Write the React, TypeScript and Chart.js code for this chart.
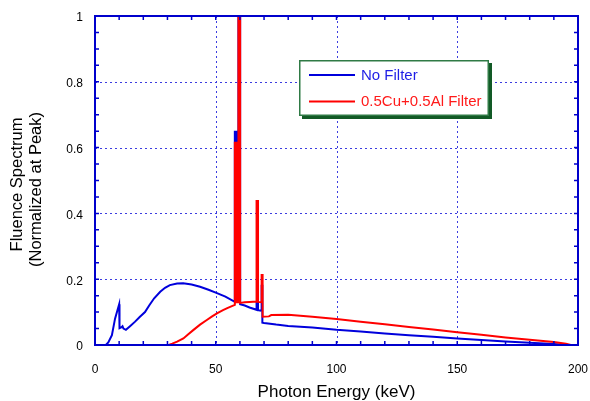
import React, { useEffect, useRef } from "react";
import { Chart, registerables } from "chart.js";

Chart.register(...registerables);

// ---- data (photon energy in keV, fluence normalized at peak) ----
const seriesNames = ["No Filter", "0.5Cu+0.5Al Filter"];

const noFilterEnergy = [
  0, 4.5, 5.5, 7, 8.3, 10, 10.15, 11, 11.4, 11.8, 12.8, 14.5, 16.6, 18.5, 20.7, 22.5, 24.5, 27, 29, 31, 34,
  36.5, 40, 43.5, 47, 50, 54, 57.9, 57.9, 58.45, 58.45, 58.5, 58.5, 59.1, 59.1, 59.4, 59.4, 60.1, 60.1, 62,
  64, 66.9, 66.9, 67.5, 67.5, 69.0, 69.0, 69.3, 69.3, 70, 75, 80, 90, 100, 110, 120, 130, 140, 150, 160,
  170, 180, 190, 194, 196, 200,
];
const noFilterFluence = [
  0, 0, 0.008, 0.03, 0.08, 0.124, 0.051, 0.054, 0.057, 0.05, 0.046, 0.057, 0.071, 0.085, 0.1, 0.121, 0.142,
  0.162, 0.174, 0.182, 0.187, 0.188, 0.184, 0.177, 0.168, 0.159, 0.147, 0.131, 0.648, 0.648, 0.2, 0.2,
  0.648, 0.648, 0.2, 0.2, 1.0, 1.0, 0.124, 0.12, 0.114, 0.107, 0.13, 0.13, 0.106, 0.104, 0.18, 0.18, 0.068,
  0.067, 0.062, 0.058, 0.053, 0.046, 0.041, 0.035, 0.03, 0.025, 0.02, 0.015, 0.011, 0.007, 0.003, 0.001,
  0, 0,
];

const filteredEnergy = [
  0, 30.5, 32, 34, 36.6, 38.5, 40.8, 43.5, 46.3, 48.5, 50.5, 53, 55, 57.9, 57.9, 58.3, 58.3, 58.7, 58.7,
  59.1, 59.1, 59.4, 59.4, 60.1, 60.1, 62, 64, 66.9, 66.9, 67.5, 67.5, 69.0, 69.0, 69.4, 69.4, 72, 73, 80,
  85, 90, 100, 110, 120, 130, 140, 150, 160, 170, 180, 190, 195, 197, 200,
];
const filteredFluence = [
  0, 0, 0.004, 0.01, 0.02, 0.032, 0.046, 0.062, 0.076, 0.087, 0.096, 0.106, 0.113, 0.122, 0.615, 0.615,
  0.13, 0.13, 0.615, 0.615, 0.13, 0.13, 1.0, 1.0, 0.128, 0.13, 0.131, 0.132, 0.438, 0.438, 0.131, 0.13,
  0.213, 0.213, 0.086, 0.087, 0.091, 0.092, 0.089, 0.086, 0.079, 0.071, 0.063, 0.055, 0.047, 0.039, 0.031,
  0.023, 0.016, 0.009, 0.004, 0, 0,
];

const xTickValues = [0, 50, 100, 150, 200];
const xTickLabels = ["0", "50", "100", "150", "200"];
const yTickValues = [0, 0.2, 0.4, 0.6, 0.8, 1];
const yTickLabels = ["0", "0.2", "0.4", "0.6", "0.8", "1"];
const xMinorStep = 10;
const yMinorStep = 0.05;

const xTitle = "Photon Energy (keV)";
const yTitle = ["Fluence Spectrum", "(Normalized at Peak)"];

const BLUE = "#0000dc";
const RED = "#ff0000";
const FRAME = "#0000cc";
const FONT = "'Liberation Sans', Arial, sans-serif";

const toPoints = (xs: number[], ys: number[]) => xs.map((x, i) => ({ x, y: ys[i] }));

const decorPlugin = {
  id: "decor",
  beforeDatasetsDraw(chart: any) {
    const { ctx, chartArea, scales } = chart;
    const { left, right, top, bottom } = chartArea;
    const xs = scales.x;
    const ys = scales.y;
    ctx.save();
    ctx.strokeStyle = "#3c3ce0";
    ctx.lineWidth = 1;
    ctx.setLineDash([2, 3]);
    xTickValues.slice(1, -1).forEach((v) => {
      const px = Math.round(xs.getPixelForValue(v)) + 0.5;
      ctx.beginPath();
      ctx.moveTo(px, top);
      ctx.lineTo(px, bottom);
      ctx.stroke();
    });
    yTickValues.slice(1, -1).forEach((v) => {
      const py = Math.round(ys.getPixelForValue(v)) + 0.5;
      ctx.beginPath();
      ctx.moveTo(left, py);
      ctx.lineTo(right, py);
      ctx.stroke();
    });
    ctx.restore();
  },
  afterDatasetsDraw(chart: any) {
    const { ctx, chartArea, scales } = chart;
    const { left, right, top, bottom } = chartArea;
    const xs = scales.x;
    const ys = scales.y;
    ctx.save();
    ctx.strokeStyle = FRAME;
    ctx.lineWidth = 1.5;
    const tl = 4;
    for (let v = xs.min + xMinorStep; v < xs.max; v += xMinorStep) {
      const px = xs.getPixelForValue(v);
      ctx.beginPath();
      ctx.moveTo(px, bottom);
      ctx.lineTo(px, bottom - tl);
      ctx.moveTo(px, top);
      ctx.lineTo(px, top + tl);
      ctx.stroke();
    }
    for (let v = ys.min + yMinorStep; v < ys.max - 1e-9; v += yMinorStep) {
      const py = ys.getPixelForValue(v);
      ctx.beginPath();
      ctx.moveTo(left, py);
      ctx.lineTo(left + tl, py);
      ctx.moveTo(right, py);
      ctx.lineTo(right - tl, py);
      ctx.stroke();
    }
    ctx.lineWidth = 2;
    ctx.strokeRect(left, top, right - left, bottom - top);
    ctx.restore();
  },
  afterDraw(chart: any) {
    const { ctx, chartArea } = chart;
    const { left, top, bottom } = chartArea;
    ctx.save();
    ctx.fillStyle = "#000";
    ctx.font = `16.5px ${FONT}`;
    ctx.textAlign = "center";
    ctx.textBaseline = "middle";
    const mid = (top + bottom) / 2;
    const lineX = [17.5, 36.5];
    const lineY = [mid + 4, mid + 9];
    yTitle.forEach((t, i) => {
      ctx.save();
      ctx.translate(lineX[i], lineY[i]);
      ctx.rotate(-Math.PI / 2);
      ctx.fillText(t, 0, 0);
      ctx.restore();
    });

    const bx = left + 204;
    const by = top + 44;
    const bw = 190;
    const bh = 56;
    ctx.fillStyle = "#125a26";
    ctx.fillRect(bx + 3, by + 3, bw, bh);
    ctx.fillStyle = "#ffffff";
    ctx.fillRect(bx, by, bw, bh);
    ctx.strokeStyle = "#2f7a45";
    ctx.lineWidth = 1.5;
    ctx.strokeRect(bx + 0.75, by + 0.75, bw - 1.5, bh - 1.5);
    const items = [
      { label: seriesNames[0], color: BLUE, text: "#1e1ee6" },
      { label: seriesNames[1], color: RED, text: "#ff1a1a" },
    ];
    ctx.font = `15px ${FONT}`;
    ctx.textAlign = "left";
    ctx.textBaseline = "middle";
    items.forEach((it, i) => {
      const yy = by + 15 + i * 26.5;
      ctx.strokeStyle = it.color;
      ctx.lineWidth = 2;
      ctx.beginPath();
      ctx.moveTo(bx + 10, yy);
      ctx.lineTo(bx + 56, yy);
      ctx.stroke();
      ctx.fillStyle = it.text;
      ctx.fillText(it.label, bx + 62, yy + 0.5);
    });
    ctx.restore();
  },
};

export default function App() {
  const canvasRef = useRef<HTMLCanvasElement | null>(null);

  useEffect(() => {
    if (!canvasRef.current) return;
    const chart = new Chart(canvasRef.current, {
      type: "line",
      data: {
        datasets: [
          {
            label: seriesNames[0],
            data: toPoints(noFilterEnergy, noFilterFluence),
            borderColor: BLUE,
            borderWidth: 2,
            pointRadius: 0,
            tension: 0,
            fill: false,
            order: 1,
          },
          {
            label: seriesNames[1],
            data: toPoints(filteredEnergy, filteredFluence),
            borderColor: RED,
            borderWidth: 2,
            pointRadius: 0,
            tension: 0,
            fill: false,
            order: 0,
          },
        ],
      },
      options: {
        animation: false,
        responsive: false,
        events: [],
        layout: { padding: { top: 16, right: 12, left: 0, bottom: 0 } },
        plugins: {
          legend: { display: false },
          tooltip: { enabled: false },
          title: { display: false },
        },
        scales: {
          x: {
            type: "linear",
            min: 0,
            max: 200,
            grid: { display: false, drawTicks: false },
            border: { display: false },
            afterBuildTicks: (s: any) => {
              s.ticks = xTickValues.map((v) => ({ value: v }));
            },
            afterFit: (s: any) => {
              s.height = 56;
              s.paddingLeft = 0;
              s.paddingRight = 0;
            },
            ticks: {
              padding: 17,
              color: "#000",
              font: { family: FONT, size: 12 },
              maxRotation: 0,
              callback: (v: any) => xTickLabels[xTickValues.indexOf(Number(v))] ?? "",
            },
            title: {
              display: true,
              text: xTitle,
              color: "#000",
              font: { family: FONT, size: 17, lineHeight: 1 },
              padding: { top: 0, bottom: 0 },
            },
          },
          y: {
            type: "linear",
            min: 0,
            max: 1,
            grid: { display: false, drawTicks: false },
            border: { display: false },
            afterBuildTicks: (s: any) => {
              s.ticks = yTickValues.map((v) => ({ value: v }));
            },
            afterFit: (s: any) => {
              s.width = 95;
              s.paddingTop = 0;
              s.paddingBottom = 0;
            },
            ticks: {
              padding: 12,
              labelOffset: 2,
              color: "#000",
              font: { family: FONT, size: 12 },
              callback: (v: any) => {
                const i = yTickValues.findIndex((t) => Math.abs(t - Number(v)) < 1e-9);
                return i >= 0 ? yTickLabels[i] : "";
              },
            },
          },
        },
      },
      plugins: [decorPlugin],
    });
    return () => chart.destroy();
  }, []);

  return (
    <div style={{ position: "absolute", left: 0, top: 0, width: 590, height: 401, background: "#fff" }}>
      <canvas ref={canvasRef} width={590} height={401} style={{ display: "block" }} />
    </div>
  );
}
